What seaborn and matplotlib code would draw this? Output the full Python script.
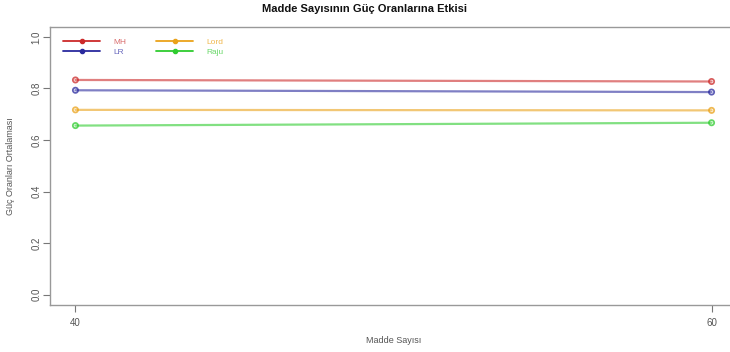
import numpy as np
import pandas as pd
import matplotlib
matplotlib.use("Agg")
import matplotlib.pyplot as plt
from matplotlib.lines import Line2D
import seaborn as sns

# Test length (number of items) and mean power rates per method
madde_sayisi = [40, 60]
mh = [0.833, 0.827]
lr = [0.793, 0.786]
lord = [0.717, 0.715]
raju = [0.656, 0.667]

yontemler = ["MH", "LR", "Lord", "Raju"]
renkler = {"MH": "#cc2a2a", "LR": "#2a2a9e", "Lord": "#eaa21a", "Raju": "#2fcc2f"}
yazi_renkleri = {"MH": "#d96b6b", "LR": "#6b6bbf", "Lord": "#f0b84f", "Raju": "#6ad86a"}

df = pd.DataFrame({
    "Madde Sayısı": madde_sayisi * 4,
    "Güç": mh + lr + lord + raju,
    "Yöntem": sum([[y] * len(madde_sayisi) for y in yontemler], []),
})

sns.set_style("white")
plt.rcParams["font.family"] = ["Liberation Sans", "DejaVu Sans"]

fig = plt.figure(figsize=(7.30, 3.52), dpi=100)
ax = fig.add_axes([50 / 730, 1 - 305 / 352, 687 / 730, (305 - 26.6) / 352])

# lines between the two test lengths
sns.lineplot(data=df, x="Madde Sayısı", y="Güç", hue="Yöntem", palette=renkler,
             hue_order=yontemler, ax=ax, linewidth=1.6, alpha=0.6, legend=False)
# white halo so the line stops short of each point, then the open circles
sns.scatterplot(data=df, x="Madde Sayısı", y="Güç", color="white", s=90,
                linewidth=0, ax=ax, legend=False, zorder=3)
sns.scatterplot(data=df, x="Madde Sayısı", y="Güç", hue="Yöntem", palette=renkler,
                hue_order=yontemler, s=14, facecolor="none", linewidth=1.3,
                alpha=0.75, ax=ax, legend=False, zorder=4)
for coll in ax.collections[1:]:
    coll.set_facecolor("none")
    coll.set_edgecolor([renkler[y] for y in df["Yöntem"]])

ax.set_xlim(39.2, 60.8)
ax.set_ylim(-0.04, 1.04)
ax.set_xticks(madde_sayisi)
ax.set_yticks([0.0, 0.2, 0.4, 0.6, 0.8, 1.0])
ax.set_yticklabels(["0.0", "0.2", "0.4", "0.6", "0.8", "1.0"], rotation=90, va="center")

gri = "#555555"
for s in ax.spines.values():
    s.set_color("#999999")
    s.set_linewidth(1.0)
ax.tick_params(axis="both", which="major", direction="out", length=5, width=0.8,
               color="#777777", labelsize=7, labelcolor=gri, bottom=True, left=True)
ax.tick_params(axis="x", pad=4)
ax.tick_params(axis="y", pad=1)

ax.set_xlabel("Madde Sayısı", fontsize=6.5, color=gri, labelpad=6)
ax.set_ylabel("Güç Oranları Ortalaması", fontsize=6.5, color=gri, labelpad=12)
fig.suptitle("Madde Sayısının Güç Oranlarına Etkisi", fontsize=8, fontweight="bold",
             x=0.5, y=0.99, color="#111111")

handles = [Line2D([], [], color=renkler[y], linewidth=1.3, marker="o", markersize=3)
           for y in yontemler]
leg = ax.legend(handles, yontemler, ncol=2, loc="upper left", frameon=False,
                fontsize=6, handlelength=4.5, columnspacing=3.5, handletextpad=1.6,
                labelspacing=0.25, bbox_to_anchor=(0.008, 0.985))
for t, y in zip(leg.get_texts(), yontemler):
    t.set_color(yazi_renkleri[y])

fig.savefig("out.png", dpi=100)
